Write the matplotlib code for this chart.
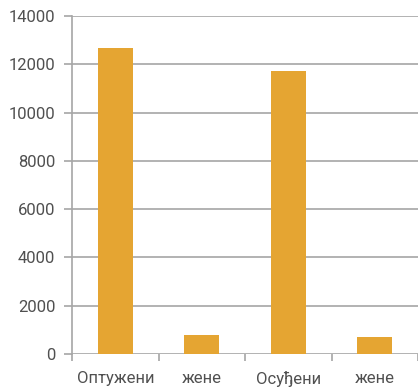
import matplotlib
matplotlib.use("Agg")
import matplotlib.pyplot as plt
import numpy as np

categories = ["Оптужени", "жене", "Осуђени", "жене"]
values = [12680, 800, 11720, 720]
yticks = [0, 2000, 4000, 6000, 8000, 10000, 12000, 14000]

plt.rcParams['font.family'] = ['Roboto', 'DejaVu Sans']

fig = plt.figure(figsize=(4.18, 3.87), dpi=100)
ax = fig.add_axes([72/418, 33/387, 1 - 72/418, (354-16)/387])

x = np.arange(len(categories))
ax.bar(x, values, width=0.4, color="#E5A532", zorder=3)

ax.set_xlim(-0.5, len(categories) - 0.5)
ax.set_ylim(0, 14000)
ax.set_yticks(yticks)
ax.set_yticklabels([str(v) for v in yticks])
ax.set_xticks(x)
ax.set_xticklabels(categories)
ax.set_xticks(np.arange(-0.5, len(categories), 1.0), minor=True)

gc = "#a6a6a6"
ax.yaxis.grid(True, color=gc, linewidth=1.2, zorder=0)
for s in ["top", "right", "bottom"]:
    ax.spines[s].set_visible(False)
ax.spines["left"].set_color(gc)
ax.spines["left"].set_linewidth(1.2)

ax.tick_params(axis="x", which="major", length=0, pad=12, labelsize=12, labelcolor="#505050")
ax.tick_params(axis="x", which="minor", length=5, width=1.2, color=gc)
ax.tick_params(axis="y", length=6, width=1.2, color=gc, labelsize=12, labelcolor="#505050", pad=6)

fig.savefig("out.png", dpi=100)
